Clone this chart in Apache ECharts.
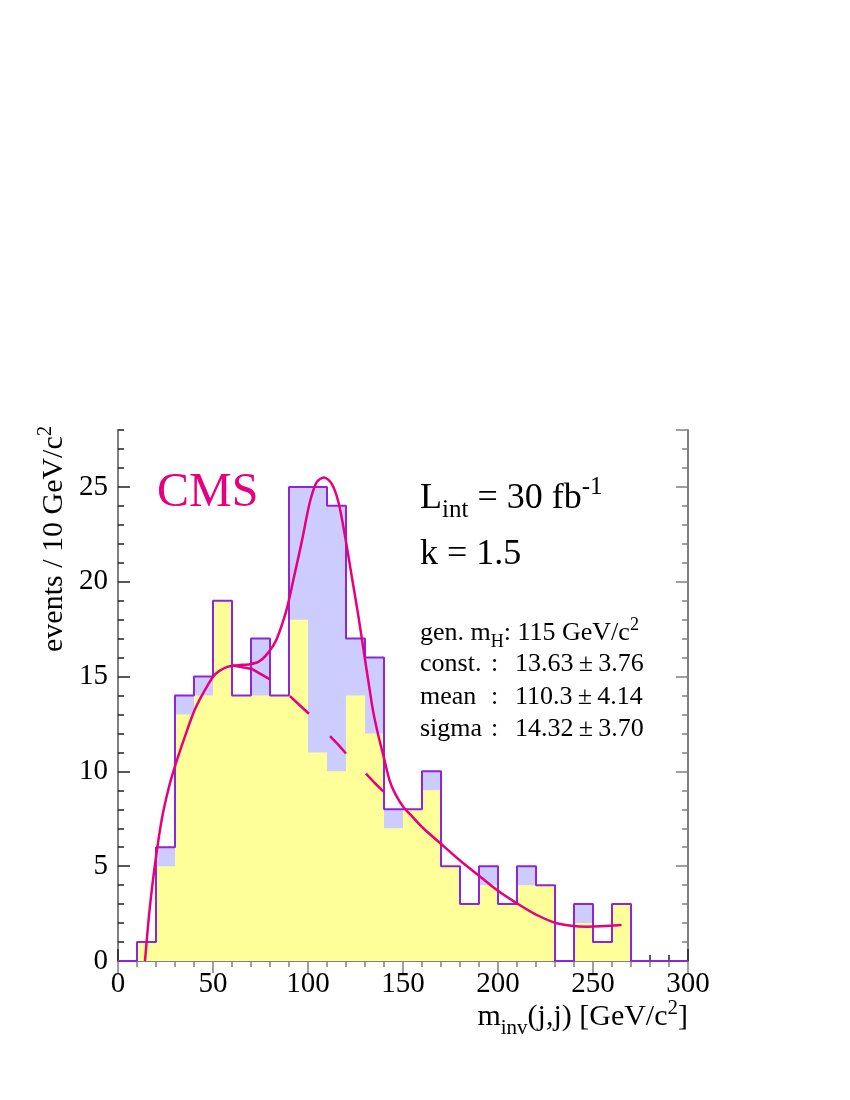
<!DOCTYPE html>
<html><head><meta charset="utf-8">
<script src="https://cdn.jsdelivr.net/npm/echarts@6/dist/echarts.min.js"></script>
<style>html,body{margin:0;padding:0;background:#fff}#c{width:850px;height:1100px}</style>
</head><body><div id="c"></div>
<script>
// ---- data ----
const binStarts = [0,10,20,30,40,50,60,70,80,90,100,110,120,130,140,150,160,170,180,190,200,210,220,230,240,250,260,270,280,290];
const binEnd = 300;
const totalCounts      = [0,1,6,14,15,19,14,17,14,25,25,24,17,16,8,8,10,5,3,5,3,5,4,0,3,1,3,0,0,0];
const backgroundCounts = [0,1,5,13,14,19,14,14,14,18,11,10,14,12,7,8,9,5,3,4,3,4,4,0,2,1,3,0,0,0];
const fitX = [14.2,16.8,19.8,23,26.5,30,35.3,40.5,45.8,51,57.2,63.3,68.6,73.9,79.1,83.5,88.8,92.3,96.7,101,104.6,108.4,112.5,116,119.5,123,126.5,130,132,134.4,137,140,143,146,150,155,160.7,169.5,180,190.5,200,209.8,220,230.9,246.7,265];
const fitY = [0,2.87,5.34,7.45,9.04,10.27,11.86,13.27,14.3,15.1,15.5,15.6,15.64,15.77,16.26,16.97,18.55,20.1,22.1,24.2,25.25,25.5,25.16,24.2,22.4,20.3,18.2,15.9,14.6,13.1,11.9,10.7,9.5,8.8,8.15,7.6,7.0,6.22,5.3,4.46,3.7,3.05,2.45,1.99,1.81,1.9];
// background component, drawn dashed (null = gap)
const bkgX = [60,70.4,80,85,90.5,95.5,100.5,106,111.6,116,120,125,130.5,135,139.6];
const bkgY = [15.6,15.4,14.85,null,13.97,13.5,13.04,null,11.86,11.4,10.94,null,9.88,9.4,8.95];
const xTickStep = 50, yTickStep = 5;
const xMin = 0, xMax = 300, yMin = 0, yMax = 28;

const SERIF = '"Liberation Serif", "Times New Roman", serif';
const MAG = '#e6007e';

function stepPts(counts){
  const p = binStarts.map((x,i)=>[x,counts[i]]);
  p.push([binEnd, counts[counts.length-1]]);
  return p;
}

// ---- text layout helper ----
const mctx = document.createElement('canvas').getContext('2d');
function midOffset(s){
  mctx.font = s+'px '+SERIF;
  mctx.textBaseline='alphabetic';
  const m = mctx.measureText('Hg');
  if (m.fontBoundingBoxAscent !== undefined) return (m.fontBoundingBoxAscent - m.fontBoundingBoxDescent)/2;
  return 0.34*s;
}
function wid(t,s){ mctx.font = s+'px '+SERIF; return mctx.measureText(t).width; }
function runs(x0, base, pieces, color, alignRight){
  let tot = 0; pieces.forEach(p=>{ tot += wid(p.t,p.s) + (p.gap||0); });
  let x = alignRight ? x0 - tot : x0;
  const els = [];
  pieces.forEach(p=>{
    x += (p.gap||0);
    els.push({type:'text', x:x, y: base + (p.dy||0) - midOffset(p.s), z:100,
      style:{text:p.t, fontSize:p.s, fontFamily:SERIF, fill: color||'#000', align:'left', verticalAlign:'middle'}});
    x += wid(p.t,p.s);
  });
  return els;
}

const graphics = [];
graphics.push(...runs(157, 510, [{t:'CMS', s:48}], MAG));
graphics.push(...runs(420, 511, [{t:'L',s:36},{t:'int',s:25,dy:8},{t:' = 30 fb',s:36},{t:'-1',s:25,dy:-15}]));
graphics.push(...runs(420, 567, [{t:'k = 1.5',s:36}]));
graphics.push(...runs(420, 642, [{t:'gen. m',s:26},{t:'H',s:18,dy:6},{t:': 115 GeV/c',s:26},{t:'2',s:18,dy:-11}]));
const statRows = [['const.','13.63','3.76',673],['mean','110.3','4.14',706],['sigma','14.32','3.70',738]];
statRows.forEach(r=>{
  graphics.push(...runs(420, r[3], [{t:r[0],s:26}]));
  graphics.push(...runs(491, r[3], [{t:':',s:26}]));
  graphics.push(...runs(515, r[3], [{t:r[1]+'\u2009\u00b1\u2009'+r[2],s:26}]));
});
graphics.push(...runs(688, 1028, [{t:'m',s:30},{t:'inv',s:21,dy:7},{t:'(j,j) [GeV/c',s:30},{t:'2',s:21,dy:-13},{t:']',s:30}], '#000', true));
// rotated y title
const yt = runs(0, 0, [{t:'events / 10 GeV/c',s:30},{t:'2',s:21,dy:-13}]);
graphics.push({type:'group', x:65, y:652, rotation:Math.PI/2, children: yt});

const chart = echarts.init(document.getElementById('c'), null, {renderer:'canvas'});
const axisLineGray = {show:true, lineStyle:{color:'#808080', width:2}};
const lab = {fontSize:29, fontFamily:SERIF, color:'#000'};
chart.setOption({
  animation:false,
  backgroundColor:'#fff',
  grid:{left:118, right:162, top:430, bottom:139, containLabel:false},
  graphic: graphics,
  xAxis:[
    {type:'value', min:xMin, max:xMax, interval:xTickStep, position:'bottom',
     axisLine:axisLineGray, splitLine:{show:false},
     axisTick:{show:true, inside:true, length:12, lineStyle:{color:'#222', width:1.5}},
     minorTick:{show:true, splitNumber:5, length:6, lineStyle:{color:'#222', width:1.5}},
     axisLabel:Object.assign({margin:9}, lab)},
    {type:'value', min:xMin, max:xMax, interval:xTickStep, position:'top',
     axisLine:axisLineGray, splitLine:{show:false},
     axisTick:{show:true, inside:true, length:12, lineStyle:{color:'#808080', width:1.5}},
     minorTick:{show:true, splitNumber:5, length:6, lineStyle:{color:'#808080', width:1.5}},
     axisLabel:{show:false}}
  ],
  yAxis:[
    {type:'value', min:yMin, max:yMax, interval:yTickStep, position:'left',
     axisLine:axisLineGray, splitLine:{show:false},
     axisTick:{show:true, inside:true, length:12, lineStyle:{color:'#222', width:1.5}},
     axisLabel:Object.assign({margin:10, showMaxLabel:false}, lab)},
    {type:'value', min:yMin, max:yMax, interval:1, position:'left', offset:0,
     axisLine:{show:false}, splitLine:{show:false},
     axisTick:{show:true, inside:true, length:6, lineStyle:{color:'#222', width:1.5}},
     axisLabel:{show:false}},
    {type:'value', min:yMin, max:yMax, interval:yTickStep, position:'right', offset:0,
     axisLine:axisLineGray, splitLine:{show:false},
     axisTick:{show:true, inside:true, length:12, lineStyle:{color:'#808080', width:1.5}},
     axisLabel:{show:false}},
    {type:'value', min:yMin, max:yMax, interval:1, position:'right', offset:0,
     axisLine:{show:false}, splitLine:{show:false},
     axisTick:{show:true, inside:true, length:6, lineStyle:{color:'#808080', width:1.5}},
     axisLabel:{show:false}}
  ],
  series:[
    {type:'line', step:'end', data:stepPts(totalCounts), symbol:'none', z:1,
     lineStyle:{width:0, opacity:0}, areaStyle:{color:'#ccccff', opacity:1}},
    {type:'line', step:'end', data:stepPts(backgroundCounts), symbol:'none', z:2,
     lineStyle:{width:0, opacity:0}, areaStyle:{color:'#ffff99', opacity:1}},
    {type:'line', step:'end', data:stepPts(totalCounts), symbol:'none', z:3,
     lineStyle:{width:2, color:'#9124d8'}},
    {type:'line', data:bkgX.map((x,i)=>[x, bkgY[i]===null ? '-' : bkgY[i]]), symbol:'none', z:4,
     connectNulls:false, smooth:false, lineStyle:{width:2.5, color:MAG, cap:'butt'}},
    {type:'line', data:fitX.map((x,i)=>[x,fitY[i]]), symbol:'none', smooth:0.3, z:5,
     lineStyle:{width:2.5, color:MAG}}
  ]
});
</script></body></html>
